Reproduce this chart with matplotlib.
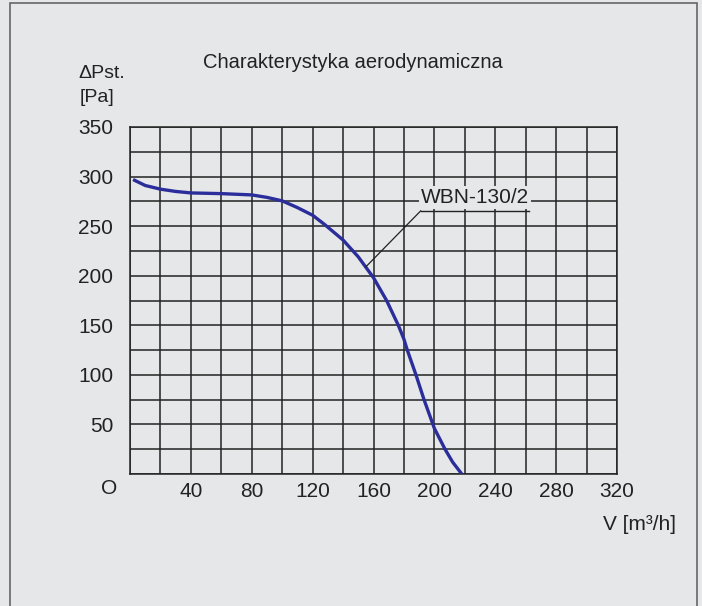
import numpy as np
import matplotlib.pyplot as plt
from matplotlib.patches import Rectangle

plt.rcParams['font.family'] = ['Liberation Sans', 'DejaVu Sans']

# curve
flow = [2, 10, 20, 30, 40, 60, 80, 90, 100, 110, 120, 128, 140, 150, 160, 168.6, 176.3, 180,
        182.2, 187.9, 193.2, 200, 207, 212, 218]
pressure = [297, 291, 287.3, 285, 283.5, 282.8, 281.5, 279, 275.5, 268.7, 261, 251.5, 236, 219, 198,
            175, 150, 136, 125, 100, 75, 46, 25, 12, 0]

x_ticks = list(range(0, 321, 20))
x_labels = ["" if (v == 0 or v % 40) else str(v) for v in x_ticks]
y_ticks = list(range(0, 351, 25))
y_labels = ["" if (v == 0 or v % 50) else str(v) for v in y_ticks]

bg = "#e6e7e9"
grid_c = "#222222"

fig = plt.figure(figsize=(7.02, 6.06), dpi=100)
fig.patch.set_facecolor(bg)
fig.patches.append(Rectangle((10 / 702, -0.1), 687 / 702, 1.1 - 3 / 606, transform=fig.transFigure,
                             facecolor="none", edgecolor="#666666", linewidth=1.2))

ax = fig.add_axes([130 / 702, 1 - 474 / 606, 487 / 702, 347 / 606])
ax.set_facecolor(bg)
ax.set_xlim(0, 320)
ax.set_ylim(0, 350)
ax.set_xticks(x_ticks)
ax.set_xticklabels(x_labels, fontsize=15, color="#222222")
ax.set_yticks(y_ticks)
ax.set_yticklabels(y_labels, fontsize=15, color="#222222")
ax.tick_params(length=0)
ax.tick_params(axis="x", pad=6)
ax.tick_params(axis="y", pad=12)
ax.grid(True, color=grid_c, linewidth=1.1)
for s in ax.spines.values():
    s.set_color(grid_c)
    s.set_linewidth(1.1)

ax.plot(flow, pressure, color="#2b2e9a", linewidth=2.4, solid_joinstyle="round",
        solid_capstyle="butt", zorder=3)

# curve label
ax.plot([191, 262], [265.4, 265.4], color="#222222", linewidth=1.0, zorder=4)
ax.plot([191, 155], [265.4, 209], color="#222222", linewidth=0.9, zorder=4)
ax.text(226.5, 279, "WBN-130/2", fontsize=15, color="#222222", ha="center", va="center", zorder=5,
        bbox=dict(facecolor=bg, edgecolor="none", pad=1.5))

fig.text(109 / 702, 1 - 488 / 606, "O", fontsize=15, color="#222222", ha="center", va="center")
fig.text(353 / 702, 1 - 63 / 606, "Charakterystyka aerodynamiczna", fontsize=14.5, color="#222222",
         ha="center", va="center")
fig.text(78 / 702, 1 - 74 / 606, "ΔPst.", fontsize=14, color="#222222", ha="left", va="center")
fig.text(80 / 702, 1 - 98 / 606, "[Pa]", fontsize=14, color="#222222", ha="left", va="center")
fig.text(676 / 702, 1 - 524 / 606, "V [m³/h]", fontsize=15, color="#222222", ha="right", va="center")

fig.savefig("out.png", dpi=100, facecolor=bg)
